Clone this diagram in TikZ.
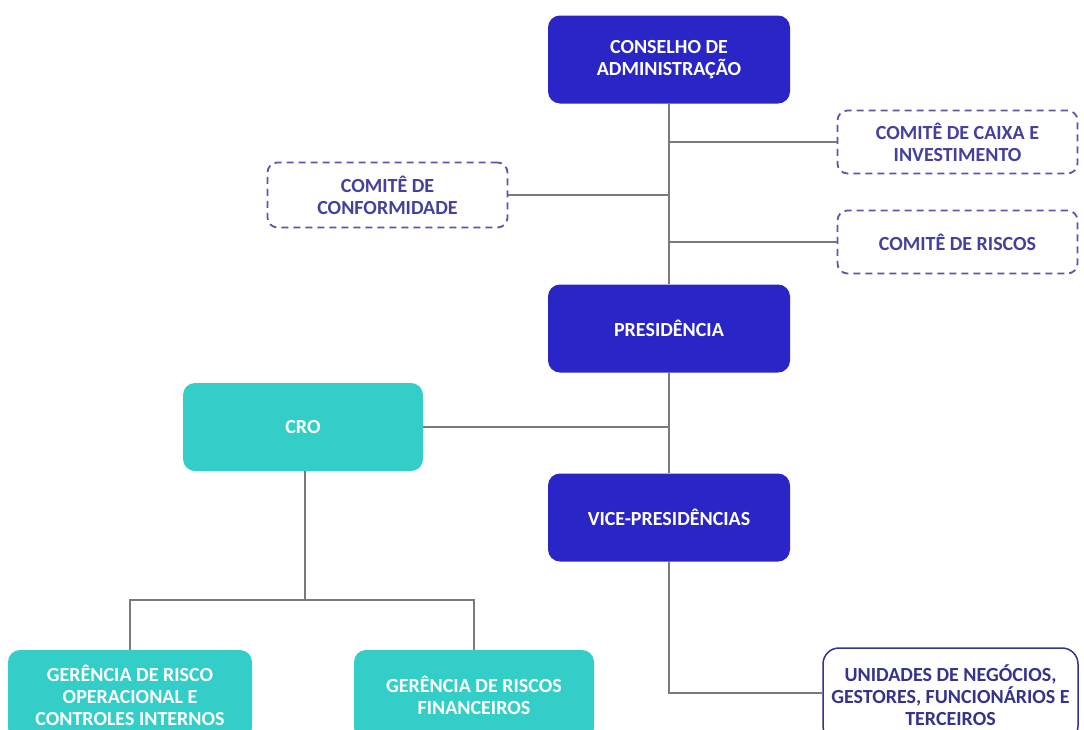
\documentclass[tikz,border=0pt]{standalone}
\usepackage{fontspec}
\setmainfont{Carlito}
\usetikzlibrary{positioning,calc}
\definecolor{OrgBlue}{HTML}{2A25C6}
\definecolor{OrgTeal}{HTML}{34CEC8}
\definecolor{OrgLine}{HTML}{7A7A7A}
\definecolor{OrgInk}{HTML}{44409E}
\definecolor{OrgDash}{HTML}{5C57AA}
\definecolor{OrgFrame}{HTML}{34348C}

\tikzset{
  boxtext/.style={align=center,inner sep=0pt,font=\bfseries\fontsize{20}{22}\selectfont},
  bluebox/.style={boxtext,fill=OrgBlue,text=white,rounded corners=12pt,minimum width=242pt,minimum height=88pt},
  tealbox/.style={boxtext,fill=OrgTeal,text=white,rounded corners=12pt,minimum width=240pt,minimum height=88pt},
  comitebox/.style={boxtext,draw=OrgDash,line width=1.8pt,dash pattern=on 7pt off 5pt,text=OrgInk,rounded corners=10pt,minimum width=240pt,minimum height=63pt},
  unitbox/.style={boxtext,draw=OrgFrame,line width=1.5pt,fill=white,text=OrgFrame,rounded corners=16pt,minimum width=255pt,minimum height=94pt},
  link/.style={draw=OrgLine,line width=2.8pt}
}

\begin{document}
\begin{tikzpicture}[x=1pt,y=-1pt]
  \useasboundingbox (0,0) rectangle (1084,729);
  \fill[white] (0,0) rectangle (1084,729);
  \clip (0,0) rectangle (1084,729);

  % conselho e comites
  \node[bluebox] (conselho) at (669,59.5) {CONSELHO DE\\ADMINISTRAÇÃO};
  \node[comitebox] (caixa) at (957.5,142) {COMITÊ DE CAIXA E\\INVESTIMENTO};
  \node[comitebox,minimum height=65pt] (conform) at (387.5,195) {COMITÊ DE\\CONFORMIDADE};
  \node[comitebox] (riscos) at (957.5,242) {COMITÊ DE RISCOS};

  % presidencia e vice
  \node[bluebox] (presid) at (669,328.5) {PRESIDÊNCIA};
  \node[bluebox] (vice) at (669,517.5) {VICE-PRESIDÊNCIAS};
  \node[tealbox] (cro) at (303,427) {CRO};

  % gerencias e unidades
  \node[tealbox,minimum width=244pt,minimum height=90pt] (gerop) at (130,695) {GERÊNCIA DE RISCO\\OPERACIONAL E\\CONTROLES INTERNOS};
  \node[tealbox,minimum height=90pt] (gerfin) at (474,695) {GERÊNCIA DE RISCOS\\FINANCEIROS};
  \node[unitbox] (unidades) at (950.5,695) {UNIDADES DE NEGÓCIOS,\\GESTORES, FUNCIONÁRIOS E\\TERCEIROS};
  \coordinate (split) at (305,600);

  % ligacoes
  \begin{scope}[on background layer/.try]
    \draw[link] (conselho.south) -- (presid.north);
    \draw[link] (presid.south) -- (vice.north);
    \draw[link] (caixa.west) -- (caixa.west -| conselho.south);
    \draw[link] (riscos.west) -- (riscos.west -| conselho.south);
    \draw[link] (conform.east) -- (conform.east -| conselho.south);
    \draw[link] (cro.east) -- (cro.east -| presid.south);
    \draw[link] (vice.south) |- ([yshift=2pt]unidades.west);
    \draw[link] (cro.south -| split) -- (split);
    \draw[link] (gerop.north) |- (split) -| (gerfin.north);
  \end{scope}
\end{tikzpicture}
\end{document}
